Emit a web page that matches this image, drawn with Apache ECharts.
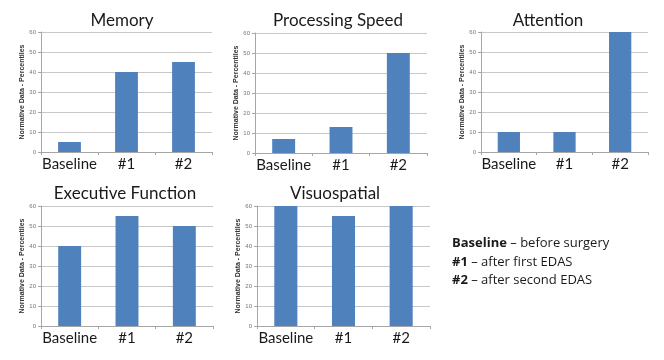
<!DOCTYPE html>
<html>
<head>
<meta charset="utf-8">
<script src="https://cdn.jsdelivr.net/npm/echarts@6/dist/echarts.min.js"></script>
<style>
html,body{margin:0;padding:0;background:#fff;}
#chart{width:664px;height:360px;}
</style>
</head>
<body>
<div id="chart"></div>
<script>
const categories = ['Baseline', '#1', '#2'];
const memory = [5, 40, 45];
const processingSpeed = [7, 13, 50];
const attention = [10, 10, 60];
const executiveFunction = [40, 55, 50];
const visuospatial = [60, 55, 60];
const panelTitles = ['Memory', 'Processing Speed', 'Attention', 'Executive Function', 'Visuospatial'];
const yAxisName = 'Normative Data - Percentiles';
const yMin = 0, yMax = 60, yStep = 10;
const legendLines = [
  ['Baseline', ' \u2013 before surgery'],
  ['#1', ' \u2013 after first EDAS'],
  ['#2', ' \u2013 after second EDAS']
];

const panelData = [memory, processingSpeed, attention, executiveFunction, visuospatial];
const grids = [
  {left: 41, top: 32, width: 171, height: 120},
  {left: 255, top: 33, width: 172, height: 120},
  {left: 481, top: 32, width: 167, height: 120},
  {left: 41, top: 206, width: 172, height: 120},
  {left: 257, top: 206, width: 173, height: 120}
];
const titleCenters = [[122, 21], [338, 21], [548, 21], [125, 194], [335, 194]];
const FONT = 'Lato';
const barColor = '#4F81BD';

const option = {
  backgroundColor: '#fff',
  animation: false,
  title: panelTitles.map((t, i) => ({
    text: t,
    left: titleCenters[i][0],
    top: titleCenters[i][1] - 9,
    textAlign: 'center',
    padding: 0,
    textStyle: {fontFamily: FONT, fontSize: 17, fontWeight: 'normal', color: '#1a1a1a'}
  })),
  grid: grids.map(g => Object.assign({containLabel: false}, g)),
  xAxis: grids.map((g, i) => ({
    type: 'category',
    gridIndex: i,
    data: categories,
    axisLine: {show: true, lineStyle: {color: '#a6a6a6', width: 1}},
    axisTick: {show: true, length: 3, lineStyle: {color: '#a6a6a6'}},
    axisLabel: {interval: 0, fontFamily: FONT, fontSize: 15, color: '#1a1a1a', margin: 5}
  })),
  yAxis: grids.map((g, i) => ({
    type: 'value',
    gridIndex: i,
    min: yMin, max: yMax, interval: yStep,
    name: yAxisName,
    nameLocation: 'middle',
    nameGap: 15,
    nameTextStyle: {fontFamily: 'Liberation Sans', fontSize: 7, fontWeight: 'bold', color: '#333'},
    axisLine: {show: true, lineStyle: {color: '#a6a6a6', width: 1}},
    axisTick: {show: true, length: 3, inside: false, lineStyle: {color: '#a6a6a6'}},
    axisLabel: {fontFamily: 'Liberation Sans', fontSize: 6, color: '#777', margin: 5},
    splitLine: {show: true, lineStyle: {color: '#c8c8c8', width: 1}}
  })),
  series: panelData.map((d, i) => ({
    type: 'bar',
    xAxisIndex: i,
    yAxisIndex: i,
    data: d,
    barWidth: '40%',
    itemStyle: {color: barColor}
  })),
  graphic: legendLines.map((ln, i) => ({
    type: 'text',
    left: 452,
    top: 237 + i * 18.5,
    style: {
      text: '{b|' + ln[0] + '}{n|' + ln[1] + '}',
      rich: {
        b: {fontFamily: 'Open Sans', fontSize: 13, fontWeight: 'bold', fill: '#1a1a1a'},
        n: {fontFamily: 'Open Sans', fontSize: 13, fill: '#1a1a1a'}
      }
    }
  }))
};

const chart = echarts.init(document.getElementById('chart'), null, {renderer: 'canvas'});
chart.setOption(option);
</script>
</body>
</html>
